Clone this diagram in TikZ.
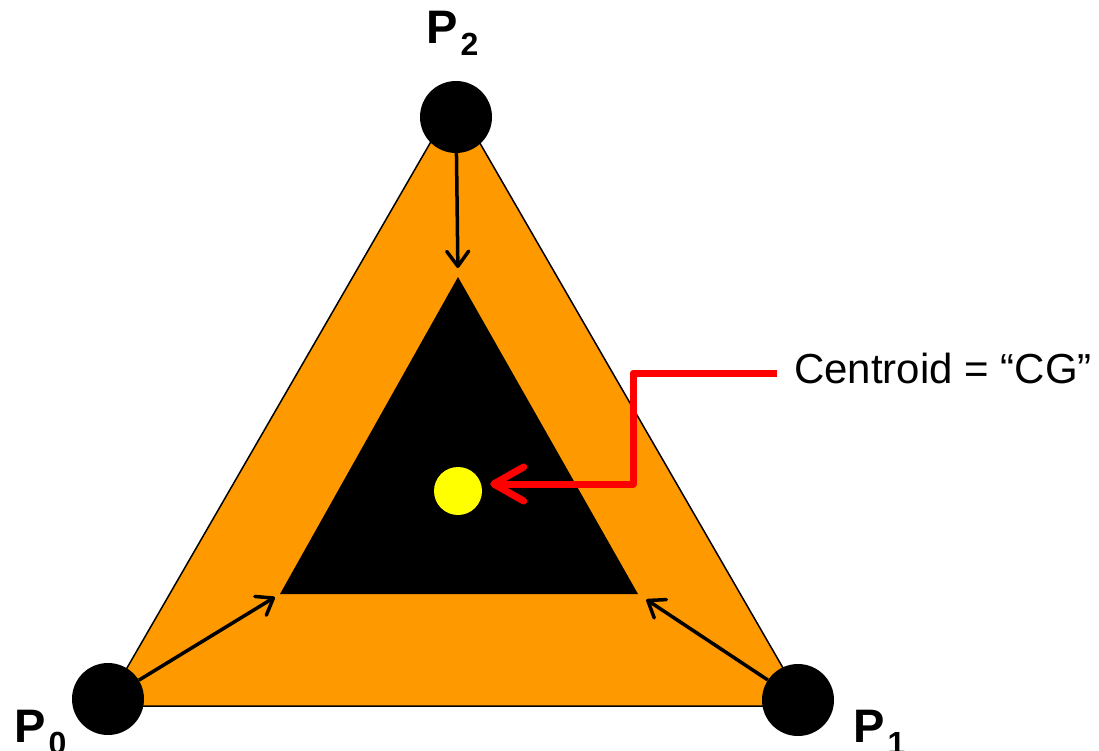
\documentclass[tikz,border=0pt]{standalone}
\usepackage{fontspec}
\setmainfont{Liberation Sans}
\usetikzlibrary{arrows.meta}
\definecolor{orng}{RGB}{255,153,0}
\definecolor{cgred}{RGB}{255,0,0}
\definecolor{cgyel}{RGB}{255,255,0}
\newcommand\ptsub[1]{\kern3pt\raisebox{-12pt}{\fontsize{32}{32}\selectfont #1}}
\begin{document}
\begin{tikzpicture}[x=1pt,y=-1pt,
  vertex/.style={circle,fill=black,minimum size=72pt,inner sep=0pt},
  ptlabel/.style={anchor=base west,inner sep=0pt,font=\fontsize{47}{47}\selectfont\bfseries},
  toinner/.style={line width=3.5pt,-{Straight Barb[length=15pt,width=22pt,round]}},
  redarrow/.style={draw=cgred,line width=7pt,line join=round,-{Straight Barb[length=30pt,width=34pt,round]}},
  outertri/.style={fill=orng,draw=black,line width=1.5pt},
  innertri/.style={fill=black}
]
\useasboundingbox (0,0) rectangle (1099,751);
% outer triangle
\coordinate (o0) at (105,706);
\coordinate (o1) at (805,706);
\coordinate (o2) at (455,100);
\draw[outertri] (o0) -- (o1) -- (o2) -- cycle;
% inner triangle
\coordinate (a0) at (280,594);
\coordinate (a1) at (638,594);
\coordinate (a2) at (458,277);
\fill[innertri] (a0) -- (a1) -- (a2) -- cycle;
% vertices
\node[vertex] (p2) at (456,117) {};
\node[vertex] (p0) at (108,699) {};
\node[vertex] (p1) at (798,700) {};
% labels
\node[ptlabel] (l2) at (426,44) {P\ptsub{2}};
\node[ptlabel] (l0) at (14,742) {P\ptsub{0}};
\node[ptlabel] (l1) at (853,742) {P\ptsub{1}};
% arrows
\draw[toinner,shorten >=9pt] (p2) -- (a2);
\draw[toinner,shorten >=6pt] (p0) -- (a0);
\draw[toinner,shorten >=10pt] (p1) -- (a1);
% centroid
\node[circle,fill=cgyel,minimum size=48pt,inner sep=0pt] (cg) at (458,491) {};
\node[anchor=base west,inner sep=0pt,font=\fontsize{42}{42}\selectfont] (cgl) at (794,383) {Centroid = “CG”};
\coordinate (redstart) at (777,373);
\coordinate (bend1) at (633,373);
\coordinate (bend2) at (633,484);
\draw[redarrow,shorten >=8pt] (redstart) -- (bend1) -- (bend2) -- (cg.east |- bend2);
\end{tikzpicture}
\end{document}
